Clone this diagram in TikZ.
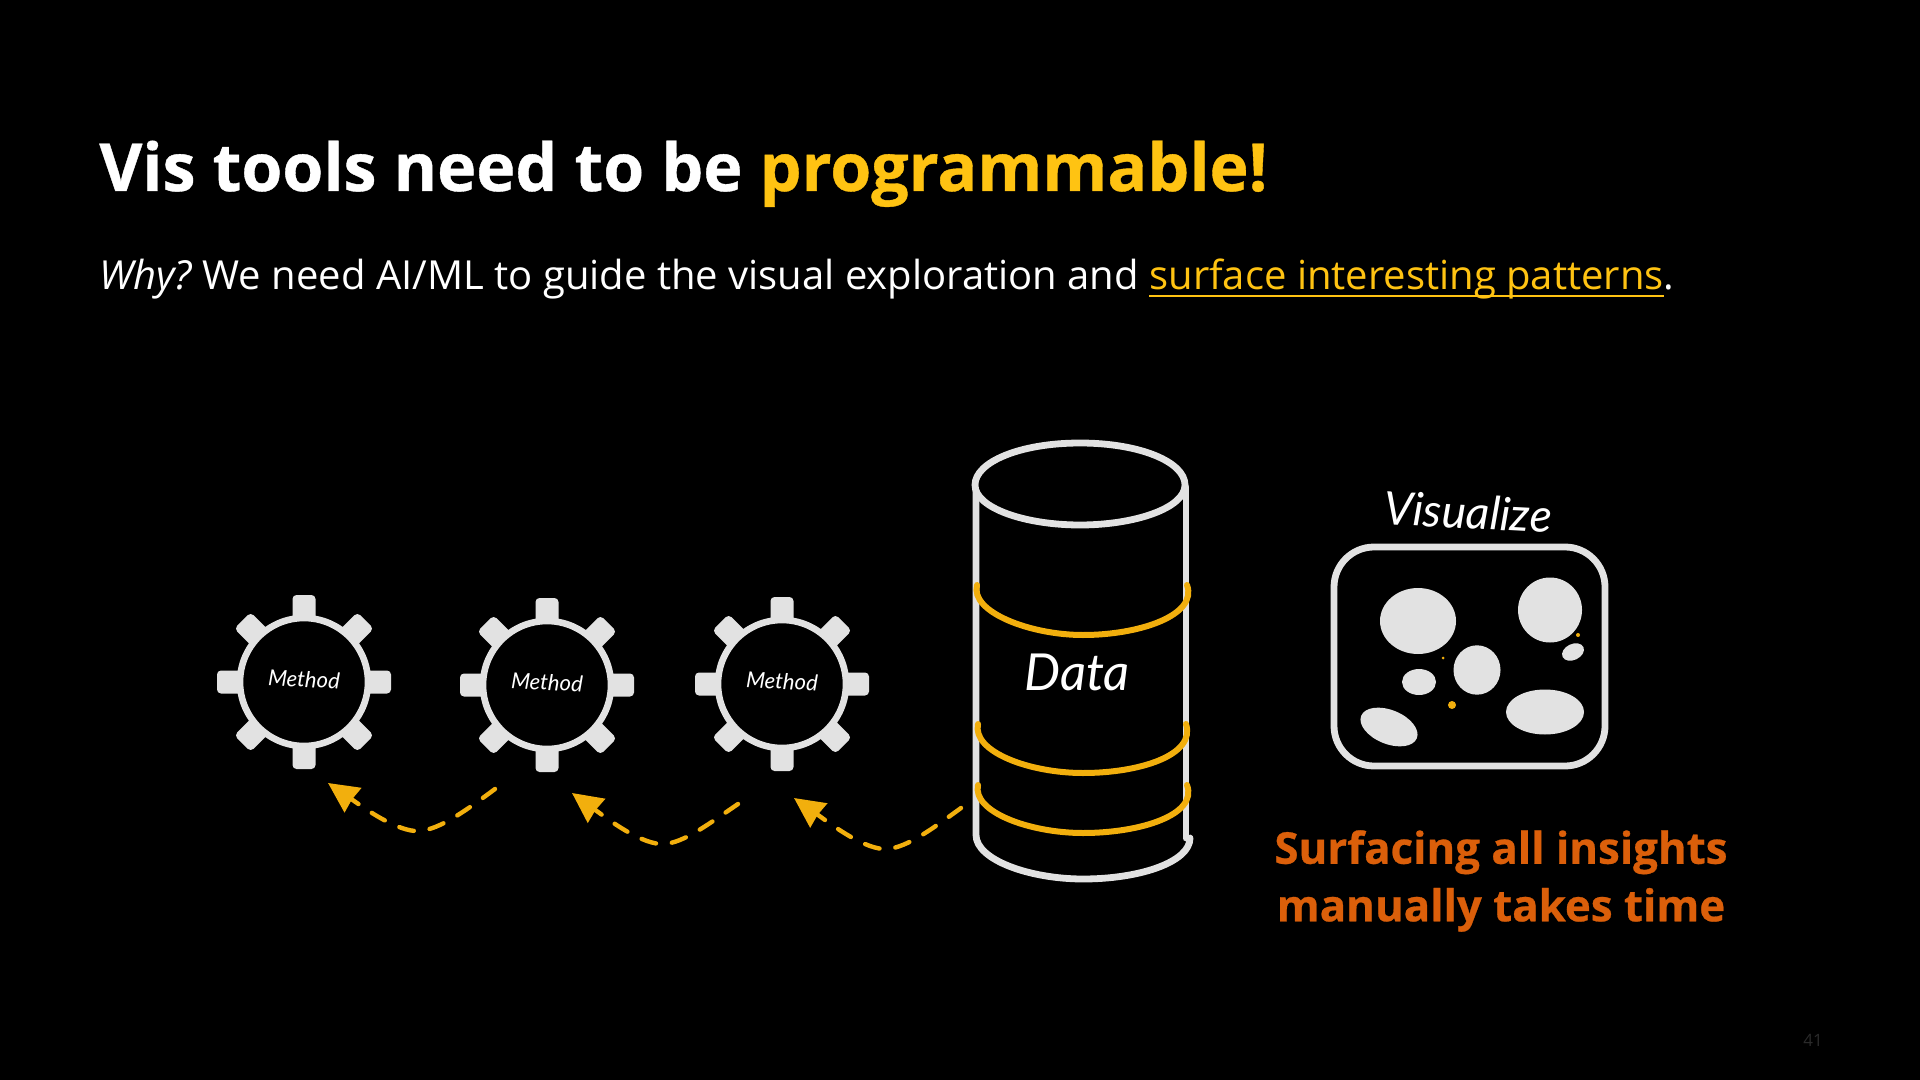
\documentclass[tikz,border=0pt]{standalone}
\usepackage{fontspec}
\usetikzlibrary{arrows.meta,shapes.geometric}
\setmainfont{Open Sans}
\newfontfamily\handfont{Lato}
\definecolor{ink}{HTML}{E2E2E2}
\definecolor{gold}{HTML}{FFC312}
\definecolor{amber}{HTML}{F2AF0D}
\definecolor{burnt}{HTML}{DB5F0A}
\definecolor{pagegrey}{HTML}{2A2A2A}
\newcommand{\linkline}[1]{{\setbox0\hbox{#1}\rlap{\rule[-3.4pt]{\wd0}{1pt}}\box0}}
\newcommand{\tightwords}{\spaceskip 0.26em\relax}
\newcommand{\heavy}{\bfseries\addfontfeature{FakeBold=0.6}}
\tikzset{
  x=0.5pt,y=-0.5pt,
  sketch/.style={draw=ink,line width=3.4pt,line cap=round,line join=round},
  band/.style={draw=amber,line width=3pt,line cap=round},
  dashlink/.style={draw=amber,line width=2.2pt,line cap=round,dash pattern=on 7.5pt off 8pt,-{Stealth[length=15pt,width=14.5pt,fill=amber,inset=0.5pt]}},
  hand/.style={text=white,font=\handfont\itshape},
  blob/.style={fill=ink,draw=none},
  dot/.style={fill=amber,draw=none},
  ring/.style={circle,draw=ink,fill=black,line width=3.3pt,minimum size=64pt,inner sep=0pt},
}
\newcommand{\gear}[3]{% name, x, y
  \begin{scope}[shift={(#2,#3)}]
    \foreach \a in {0,45,...,315}
      \fill[ink,rotate=\a,rounded corners=2pt] (-11.5,-87) rectangle (11.5,-50);
  \end{scope}
  \node[ring] (#1) at (#2,#3) {};
  \node[hand,font=\handfont\itshape\fontsize{11}{12}\selectfont,rotate=-3] (#1t) at (#2,#3-3) {Method};
}
\begin{document}
\begin{tikzpicture}
\useasboundingbox (0,0) rectangle (1920,1080);
\fill[black] (0,0) rectangle (1920,1080);

\node[anchor=base west,inner sep=0pt,text=white,font=\fontsize{33.1}{38}\selectfont\heavy] (title) at (99,191) {Vis tools need to be \textcolor{gold}{programmable!}};
\node[anchor=base west,inner sep=0pt,text=white,font=\fontsize{20}{24}\selectfont] (subtitle) at (99,290) {\tightwords\textit{Why?}\kern-2.1pt{} We need AI/ML to guide the visual exploration and \textcolor{gold}{\linkline{surface interesting patterns}}.};

% gears
\gear{ga}{304}{682}
\gear{gb}{547}{685}
\gear{gc}{782}{684}

% cylinder
\draw[sketch] (976,487) -- (976,835) .. controls (976,860) and (1030,879) .. (1083,879) .. controls (1140,879) and (1190,862) .. (1190,838);
\draw[sketch] (1186,487) -- (1186,838);
\draw[sketch,fill=black] (1080,443) .. controls (1020,443) and (975,462) .. (975,485) .. controls (975,508) and (1025,525) .. (1080,525) .. controls (1135,525) and (1185,508) .. (1185,485) .. controls (1185,462) and (1140,443) .. (1080,443) -- cycle;
\draw[band] (977,585) .. controls (970,612) and (1030,635) .. (1083,635) .. controls (1140,635) and (1198,615) .. (1187,585);
\draw[band] (978,724) .. controls (972,752) and (1030,773) .. (1083,773) .. controls (1140,773) and (1196,755) .. (1186,724);
\draw[band] (978,785) .. controls (972,812) and (1030,833) .. (1083,833) .. controls (1140,833) and (1198,815) .. (1187,785);
\node[hand,font=\handfont\itshape\fontsize{25.5}{30}\selectfont] (data) at (1077,672) {Data};

% connectors
\coordinate (a1s) at (495,789); \coordinate (a1t) at (328,783);
\coordinate (a2s) at (738,804); \coordinate (a2t) at (572,793);
\coordinate (a3s) at (961,808); \coordinate (a3t) at (794,798);
\draw[dashlink] (a1s) .. controls (460,815) and (435,832) .. (415,831) .. controls (392,829) and (360,805) .. (a1t);
\draw[dashlink] (a2s) .. controls (703,828) and (680,845) .. (660,844) .. controls (637,842) and (605,817) .. (a2t);
\draw[dashlink] (a3s) .. controls (928,832) and (903,850) .. (883,849) .. controls (860,847) and (828,822) .. (a3t);

% visualize
\node[hand,font=\handfont\itshape\fontsize{23}{28}\selectfont,rotate=-3] (vis) at (1468,512) {Visualize};
\node[sketch,fill=black,rounded corners=20pt,minimum width=135.5pt,minimum height=109.5pt,inner sep=0pt] (panel) at (1469.5,656.5) {};
\fill[blob] (1418,621) ellipse (38 and 33);
\fill[blob] (1550,610) ellipse (32 and 32.5);
\fill[blob] (1477,670) ellipse (23.5 and 24.7);
\fill[blob] (1419,682) ellipse (17 and 13);
\fill[blob,rotate around={25:(1573,652)}] (1573,652) ellipse (11.5 and 8);
\fill[blob] (1545,712) ellipse (39 and 22.5);
\fill[blob,rotate around={-22:(1389,727)}] (1389,727) ellipse (30 and 17);
\fill[dot] (1443,658) circle (1.5);
\fill[dot] (1578,635) circle (2);
\fill[dot] (1452,705) circle (4);

\node[text=burnt,align=center,inner sep=0pt,font=\fontsize{21.9}{28.75}\selectfont\heavy] (note) at (1501,881) {Surfacing all insights\\manually takes time};
\node[text=pagegrey,inner sep=0pt,font=\fontsize{8.5}{10}\selectfont] (pageno) at (1813,1040) {41};
\end{tikzpicture}
\end{document}
